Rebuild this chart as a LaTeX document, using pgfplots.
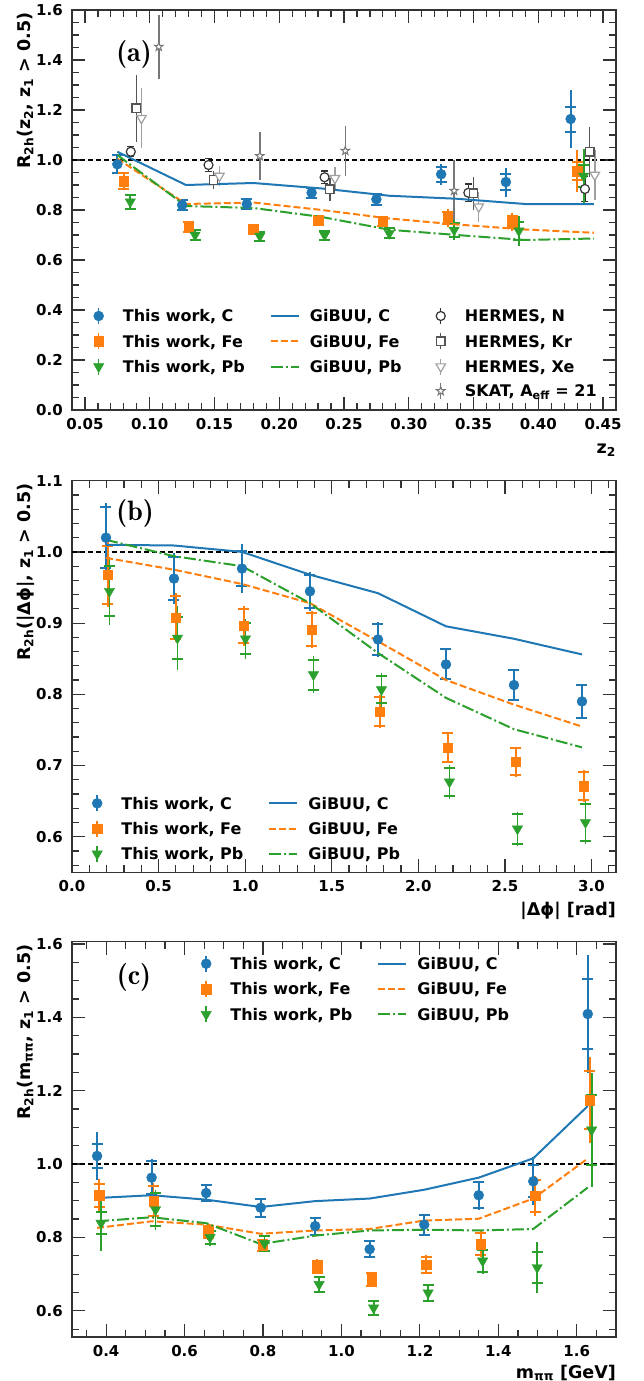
\documentclass[border=0pt]{standalone}
\usepackage{fontspec}
\setmainfont{DejaVu Sans}
\usepackage{pgfplots}
\pgfplotsset{compat=1.18}
\usepackage{pgfplotstable}

\definecolor{c0}{HTML}{1F77B4}
\definecolor{c1}{HTML}{FF7F0E}
\definecolor{c2}{HTML}{2CA02C}
\definecolor{hN}{HTML}{333333}
\definecolor{hK}{HTML}{555555}
\definecolor{hX}{HTML}{A0A0A0}
\definecolor{sk}{HTML}{777777}
\definecolor{spine}{HTML}{333333}

\pgfdeclareplotmark{fstar}{%
 \pgfpathmoveto{\pgfpointpolar{90}{\pgfplotmarksize}}%
 \pgfpathlineto{\pgfpointpolar{126}{0.4\pgfplotmarksize}}%
 \pgfpathlineto{\pgfpointpolar{162}{\pgfplotmarksize}}%
 \pgfpathlineto{\pgfpointpolar{198}{0.4\pgfplotmarksize}}%
 \pgfpathlineto{\pgfpointpolar{234}{\pgfplotmarksize}}%
 \pgfpathlineto{\pgfpointpolar{270}{0.4\pgfplotmarksize}}%
 \pgfpathlineto{\pgfpointpolar{306}{\pgfplotmarksize}}%
 \pgfpathlineto{\pgfpointpolar{342}{0.4\pgfplotmarksize}}%
 \pgfpathlineto{\pgfpointpolar{18}{\pgfplotmarksize}}%
 \pgfpathlineto{\pgfpointpolar{54}{0.4\pgfplotmarksize}}%
 \pgfpathclose
 \pgfusepathqfillstroke
}

% ---------------- panel (a) data ----------------
\pgfplotstableread{
x y s t
0.075 0.983 0.036 0.040
0.125 0.820 0.020 0.022
0.175 0.824 0.020 0.022
0.225 0.869 0.020 0.022
0.275 0.843 0.021 0.024
0.325 0.943 0.030 0.042
0.375 0.912 0.033 0.058
0.425 1.164 0.050 0.117
}\aC
\pgfplotstableread{
x y s t
0.080 0.916 0.032 0.036
0.130 0.733 0.020 0.022
0.180 0.723 0.018 0.020
0.230 0.757 0.018 0.020
0.280 0.753 0.018 0.020
0.330 0.769 0.025 0.035
0.380 0.753 0.025 0.035
0.430 0.956 0.037 0.083
}\aFe
\pgfplotstableread{
x y s t
0.085 0.833 0.028 0.030
0.135 0.700 0.020 0.022
0.185 0.696 0.018 0.020
0.235 0.700 0.018 0.020
0.285 0.707 0.020 0.022
0.335 0.720 0.028 0.040
0.385 0.717 0.035 0.060
0.435 0.936 0.045 0.110
}\aPb
\pgfplotstableread{
x y e
0.0854 1.033 0.020
0.1454 0.980 0.025
0.2350 0.931 0.025
0.3460 0.869 0.035
0.4360 0.884 0.050
}\hermN
\pgfplotstableread{
x y e
0.0897 1.207 0.135
0.1492 0.920 0.035
0.2390 0.883 0.045
0.3500 0.867 0.067
0.4397 1.033 0.100
}\hermK
\pgfplotstableread{
x y e
0.0936 1.167 0.120
0.1538 0.936 0.040
0.2430 0.927 0.045
0.3540 0.813 0.060
0.4436 0.940 0.100
}\hermX
\pgfplotstableread{
x y e
0.107 1.453 0.127
0.185 1.016 0.097
0.251 1.037 0.100
0.335 0.877 0.123
}\skat
\pgfplotstableread{
x C Fe Pb
0.075 1.033 1.005 1.020
0.128 0.900 0.824 0.816
0.180 0.908 0.830 0.808
0.233 0.886 0.800 0.772
0.285 0.857 0.766 0.721
0.337 0.845 0.742 0.700
0.390 0.824 0.722 0.680
0.443 0.824 0.709 0.686
}\aG

% ---------------- panel (b) data ----------------
\pgfplotstableread{
x y s t
0.1963 1.020 0.043 0.048
0.5890 0.9625 0.030 0.036
0.9817 0.9766 0.025 0.035
1.3744 0.9447 0.023 0.027
1.7671 0.877 0.022 0.025
2.1598 0.842 0.021 0.023
2.5525 0.813 0.021 0.023
2.9452 0.790 0.023 0.025
}\bC
\pgfplotstableread{
x y s t
0.2063 0.968 0.041 0.046
0.5990 0.908 0.030 0.034
0.9917 0.8965 0.024 0.028
1.3844 0.891 0.023 0.026
1.7771 0.776 0.020 0.023
2.1698 0.725 0.020 0.022
2.5625 0.705 0.019 0.021
2.9552 0.671 0.020 0.022
}\bFe
\pgfplotstableread{
x y s t
0.2163 0.9447 0.035 0.048
0.6090 0.879 0.029 0.045
1.0017 0.878 0.022 0.028
1.3944 0.8276 0.021 0.026
1.7871 0.8066 0.019 0.024
2.1798 0.677 0.020 0.024
2.5725 0.611 0.021 0.024
2.9652 0.620 0.026 0.030
}\bPb
\pgfplotstableread{
x C Fe Pb
0.1963 1.010 0.9916 1.017
0.5890 1.009 0.975 0.994
0.9817 1.000 0.955 0.980
1.3744 0.968 0.928 0.928
1.7671 0.942 0.8745 0.858
2.1598 0.8955 0.820 0.795
2.5525 0.878 0.7855 0.751
2.9452 0.856 0.7547 0.7255
}\bG

% ---------------- panel (c) data ----------------
\pgfplotstableread{
x y s t
0.377 1.022 0.034 0.066
0.516 0.963 0.045 0.050
0.655 0.921 0.022 0.025
0.794 0.881 0.024 0.026
0.933 0.831 0.023 0.025
1.072 0.768 0.022 0.024
1.211 0.835 0.027 0.030
1.350 0.915 0.036 0.040
1.489 0.953 0.044 0.065
1.628 1.409 0.095 0.160
}\cC
\pgfplotstableread{
x y s t
0.382 0.915 0.032 0.045
0.521 0.899 0.040 0.050
0.660 0.814 0.016 0.020
0.799 0.779 0.015 0.018
0.938 0.720 0.016 0.020
1.077 0.686 0.017 0.020
1.216 0.725 0.023 0.026
1.355 0.782 0.030 0.035
1.494 0.913 0.044 0.055
1.633 1.1745 0.079 0.117
}\cFe
\pgfplotstableread{
x y s t
0.387 0.839 0.030 0.075
0.526 0.8755 0.045 0.055
0.665 0.800 0.018 0.022
0.804 0.784 0.020 0.022
0.943 0.672 0.020 0.022
1.082 0.608 0.020 0.022
1.221 0.649 0.022 0.025
1.360 0.736 0.030 0.035
1.499 0.718 0.041 0.070
1.638 1.093 0.096 0.155
}\cPb
\pgfplotstableread{
x C Fe Pb
0.377 0.9075 0.826 0.844
0.516 0.915 0.844 0.855
0.655 0.903 0.835 0.839
0.794 0.883 0.810 0.782
0.933 0.899 0.819 0.805
1.072 0.906 0.823 0.819
1.211 0.930 0.846 0.821
1.350 0.963 0.851 0.819
1.489 1.0156 0.906 0.823
1.628 1.158 1.015 0.936
}\cG

\newcommand\tickfont{\fontsize{15bp}{18bp}\selectfont\bfseries}
\newcommand\labfont{\fontsize{17.5bp}{21bp}\selectfont\bfseries}
\newcommand\legfont{\fontsize{16bp}{19bp}\selectfont\bfseries}
\newcommand\panfont{\fontfamily{lmr}\fontsize{28bp}{32bp}\selectfont\bfseries}

\pgfplotsset{
 panel/.style={
  scale only axis, width=544bp,
  axis line style={spine, line width=1.2bp},
  tick align=inside, xtick pos=both, ytick pos=both,
  major tick length=13bp, minor tick length=7bp,
  every tick/.style={spine, line width=1.2bp},
  /pgf/number format/assume math mode=true,
  every tick label/.append style={font=\tickfont},
  xticklabel style={inner sep=0pt, yshift=-8bp},
  yticklabel style={inner sep=0pt, xshift=-9bp},
  xlabel style={font=\labfont, at={(axis description cs:1,0)}, anchor=base east, yshift=-43bp, inner sep=0pt},
  legend cell align=left,
  legend style={draw=none, fill=none, inner sep=0pt, outer sep=0pt, font=\legfont,
    row sep=5.3bp, nodes={inner sep=1bp, text height=12bp, text depth=0.3bp},
    /tikz/every odd column/.style={column sep=9bp},
    /tikz/every even column/.style={column sep=24bp}},
 },
 dline/.style={black, line width=1.5bp, dash pattern=on 5bp off 3bp, forget plot},
 gC/.style={c0, line width=2bp, solid, forget plot},
 gFe/.style={c1, line width=2bp, dash pattern=on 7bp off 3bp, forget plot},
 gPb/.style={c2, line width=2bp, dash pattern=on 12bp off 3bp on 2bp off 3bp, forget plot},
 mC/.style={mark=*, mark size=5bp, mark options={fill=c0, draw=c0, solid}},
 mFe/.style={mark=square*, mark size=4.7bp, mark options={fill=c1, draw=c1, solid}},
 mPb/.style={mark=triangle*, mark size=6bp, mark options={fill=c2, draw=c2, solid, rotate=180}},
}

\newcommand\dataseries[3]{%
 \addplot[#2, only marks, mark=none, forget plot,
   error bars/.cd, y dir=both, y explicit, error mark=none,
   error bar style={line width=1.8bp, solid}] table[x=x, y=y, y error=t] {#1};
 \addplot[#2, only marks, #3, forget plot,
   error bars/.cd, y dir=both, y explicit, error mark=|,
   error mark options={#2, mark size=5.5bp, line width=2bp, solid},
   error bar style={line width=1.8bp, solid}] table[x=x, y=y, y error=s] {#1};
}
\newcommand\legdata[2]{%
 \addlegendimage{#1, #2, legend image code/.code={%
   \draw[line width=1.5bp] (14bp,-8bp) -- (14bp,8bp);
   \draw plot coordinates {(14bp,0bp)};
   \path (0bp,-9bp) (28bp,9bp);}}}
\newcommand\legline[1]{%
 \addlegendimage{#1, legend image code/.code={%
   \draw (0bp,0bp) -- (28bp,0bp);
   \path (0bp,-9bp) (28bp,9bp);}}}

\begin{document}
\begin{tikzpicture}
\useasboundingbox (0,0) rectangle (644bp,-1381bp);

% ================= (a) =================
\begin{axis}[panel, at={(72bp,-410bp)}, anchor=south west, height=400bp,
  xmin=0.04, xmax=0.46, ymin=0, ymax=1.6,
  xtick={0.05,0.10,0.15,0.20,0.25,0.30,0.35,0.40,0.45},
  ytick={0,0.2,0.4,0.6,0.8,1.0,1.2,1.4,1.6},
  minor xtick={0.06,0.07,0.08,0.09,0.11,0.12,0.13,0.14,0.16,0.17,0.18,0.19,0.21,0.22,0.23,0.24,0.26,0.27,0.28,0.29,0.31,0.32,0.33,0.34,0.36,0.37,0.38,0.39,0.41,0.42,0.43,0.44},
  minor ytick={0.05,0.1,0.15,0.25,0.3,0.35,0.45,0.5,0.55,0.65,0.7,0.75,0.85,0.9,0.95,1.05,1.1,1.15,1.25,1.3,1.35,1.45,1.5,1.55},
  xticklabel style={/pgf/number format/fixed, /pgf/number format/fixed zerofill, /pgf/number format/precision=2},
  yticklabel style={/pgf/number format/fixed, /pgf/number format/fixed zerofill, /pgf/number format/precision=1},
  xlabel={z\textsubscript{2}},
  ylabel={R\textsubscript{2h}(z\textsubscript{2}, z\textsubscript{1} > 0.5)},
  ylabel style={font=\labfont, at={(axis description cs:-0.0772,0.9937)}, anchor=base east, inner sep=0pt},
  legend columns=3,
  legend style={at={(rel axis cs:0.023,0.26)}, anchor=north west},
]
\addplot[dline] coordinates {(0.04,1) (0.46,1)};
% HERMES and SKAT
\addplot[hN, only marks, mark=*, mark size=4.5bp, mark options={fill=white, draw=hN, line width=1.2bp, solid}, forget plot,
  error bars/.cd, y dir=both, y explicit, error mark=|, error mark options={hN, mark size=3.5bp, line width=1.2bp},
  error bar style={line width=1.5bp}] table[x=x, y=y, y error=e] {\hermN};
\addplot[hK, only marks, mark=square*, mark size=4.3bp, mark options={fill=white, draw=hK, line width=1.2bp, solid}, forget plot,
  error bars/.cd, y dir=both, y explicit, error mark=none,
  error bar style={line width=1.5bp}] table[x=x, y=y, y error=e] {\hermK};
\addplot[hX, only marks, mark=triangle*, mark size=5.5bp, mark options={fill=white, draw=hX, line width=1.2bp, solid, rotate=180}, forget plot,
  error bars/.cd, y dir=both, y explicit, error mark=none,
  error bar style={line width=1.5bp}] table[x=x, y=y, y error=e] {\hermX};
\addplot[sk, only marks, mark=fstar, mark size=4.5bp, mark options={fill=white, draw=sk, line width=1bp, solid}, forget plot,
  error bars/.cd, y dir=both, y explicit, error mark=none,
  error bar style={line width=1.5bp}] table[x=x, y=y, y error=e] {\skat};
% this work
\dataseries{\aC}{c0}{mC}
\dataseries{\aFe}{c1}{mFe}
\dataseries{\aPb}{c2}{mPb}
% GiBUU
\addplot[gC] table[x=x, y=C] {\aG};
\addplot[gFe] table[x=x, y=Fe] {\aG};
\addplot[gPb] table[x=x, y=Pb] {\aG};
% legend
\legdata{c0}{mC} \addlegendentry{This work, C}
\legline{c0, line width=2bp, solid} \addlegendentry{GiBUU, C}
\legdata{hN}{mark=*, mark size=4.5bp, mark options={fill=white, draw=hN, line width=1.2bp, solid}} \addlegendentry{HERMES, N}
\legdata{c1}{mFe} \addlegendentry{This work, Fe}
\legline{c1, line width=2bp, dash pattern=on 7bp off 3bp} \addlegendentry{GiBUU, Fe}
\legdata{hK}{mark=square*, mark size=4.3bp, mark options={fill=white, draw=hK, line width=1.2bp, solid}} \addlegendentry{HERMES, Kr}
\legdata{c2}{mPb} \addlegendentry{This work, Pb}
\legline{c2, line width=2bp, dash pattern=on 12bp off 3bp on 2bp off 3bp} \addlegendentry{GiBUU, Pb}
\legdata{hX}{mark=triangle*, mark size=5.5bp, mark options={fill=white, draw=hX, line width=1.2bp, solid, rotate=180}} \addlegendentry{HERMES, Xe}
\addlegendimage{empty legend} \addlegendentry{}
\addlegendimage{empty legend} \addlegendentry{}
\legdata{sk}{mark=fstar, mark size=4.5bp, mark options={fill=white, draw=sk, line width=1bp, solid}} \addlegendentry{SKAT, A\textsubscript{eff} = 21}
\node[font=\panfont, anchor=center] at (rel axis cs:0.114,0.89) {(a)};
\end{axis}

% ================= (b) =================
\begin{axis}[panel, at={(72bp,-872.3bp)}, anchor=south west, height=391.6bp,
  xmin=0, xmax=3.14159, ymin=0.55, ymax=1.1,
  xtick={0,0.5,1.0,1.5,2.0,2.5,3.0},
  ytick={0.6,0.7,0.8,0.9,1.0,1.1},
  minor xtick={0.1,0.2,0.3,0.4,0.6,0.7,0.8,0.9,1.1,1.2,1.3,1.4,1.6,1.7,1.8,1.9,2.1,2.2,2.3,2.4,2.6,2.7,2.8,2.9,3.1},
  minor ytick={0.56,0.58,0.62,0.64,0.66,0.68,0.72,0.74,0.76,0.78,0.82,0.84,0.86,0.88,0.92,0.94,0.96,0.98,1.02,1.04,1.06,1.08},
  xticklabel style={/pgf/number format/fixed, /pgf/number format/fixed zerofill, /pgf/number format/precision=1},
  yticklabel style={/pgf/number format/fixed, /pgf/number format/fixed zerofill, /pgf/number format/precision=1},
  xlabel={|Δϕ| [rad]},
  ylabel={R\textsubscript{2h}(|Δϕ|, z\textsubscript{1} > 0.5)},
  ylabel style={font=\labfont, at={(axis description cs:-0.0772,0.9936)}, anchor=base east, inner sep=0pt},
  legend columns=2,
  legend style={at={(rel axis cs:0.0202,0.2017)}, anchor=north west},
]
\addplot[dline] coordinates {(0,1) (3.14159,1)};
\dataseries{\bC}{c0}{mC}
\dataseries{\bFe}{c1}{mFe}
\dataseries{\bPb}{c2}{mPb}
\addplot[gC] table[x=x, y=C] {\bG};
\addplot[gFe] table[x=x, y=Fe] {\bG};
\addplot[gPb] table[x=x, y=Pb] {\bG};
\legdata{c0}{mC} \addlegendentry{This work, C}
\legline{c0, line width=2bp, solid} \addlegendentry{GiBUU, C}
\legdata{c1}{mFe} \addlegendentry{This work, Fe}
\legline{c1, line width=2bp, dash pattern=on 7bp off 3bp} \addlegendentry{GiBUU, Fe}
\legdata{c2}{mPb} \addlegendentry{This work, Pb}
\legline{c2, line width=2bp, dash pattern=on 12bp off 3bp on 2bp off 3bp} \addlegendentry{GiBUU, Pb}
\node[font=\panfont, anchor=center] at (rel axis cs:0.116,0.9175) {(b)};
\end{axis}

% ================= (c) =================
\begin{axis}[panel, at={(72bp,-1337bp)}, anchor=south west, height=395.3bp,
  xmin=0.313, xmax=1.70, ymin=0.5286, ymax=1.606,
  xtick={0.4,0.6,0.8,1.0,1.2,1.4,1.6},
  ytick={0.6,0.8,1.0,1.2,1.4,1.6},
  minor xtick={0.35,0.45,0.5,0.55,0.65,0.7,0.75,0.85,0.9,0.95,1.05,1.1,1.15,1.25,1.3,1.35,1.45,1.5,1.55,1.65},
  minor ytick={0.55,0.65,0.7,0.75,0.85,0.9,0.95,1.05,1.1,1.15,1.25,1.3,1.35,1.45,1.5,1.55},
  xticklabel style={/pgf/number format/fixed, /pgf/number format/fixed zerofill, /pgf/number format/precision=1},
  yticklabel style={/pgf/number format/fixed, /pgf/number format/fixed zerofill, /pgf/number format/precision=1},
  xlabel={m\textsubscript{ππ} [GeV]},
  xlabel style={yshift=2bp},
  ylabel={R\textsubscript{2h}(m\textsubscript{ππ}, z\textsubscript{1} > 0.5)},
  ylabel style={font=\labfont, at={(axis description cs:-0.0772,0.9937)}, anchor=base east, inner sep=0pt},
  legend columns=2,
  legend style={at={(rel axis cs:0.2206,0.9696)}, anchor=north west},
]
\addplot[dline] coordinates {(0.313,1) (1.70,1)};
\dataseries{\cC}{c0}{mC}
\dataseries{\cFe}{c1}{mFe}
\dataseries{\cPb}{c2}{mPb}
\addplot[gC] table[x=x, y=C] {\cG};
\addplot[gFe] table[x=x, y=Fe] {\cG};
\addplot[gPb] table[x=x, y=Pb] {\cG};
\legdata{c0}{mC} \addlegendentry{This work, C}
\legline{c0, line width=2bp, solid} \addlegendentry{GiBUU, C}
\legdata{c1}{mFe} \addlegendentry{This work, Fe}
\legline{c1, line width=2bp, dash pattern=on 7bp off 3bp} \addlegendentry{GiBUU, Fe}
\legdata{c2}{mPb} \addlegendentry{This work, Pb}
\legline{c2, line width=2bp, dash pattern=on 12bp off 3bp on 2bp off 3bp} \addlegendentry{GiBUU, Pb}
\node[font=\panfont, anchor=center] at (rel axis cs:0.114,0.9107) {(c)};
\end{axis}
\end{tikzpicture}
\end{document}
